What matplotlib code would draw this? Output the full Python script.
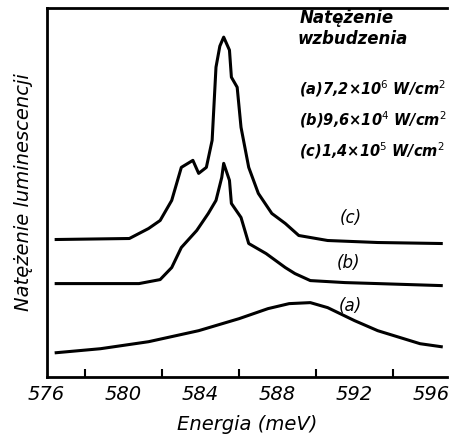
import matplotlib
matplotlib.use("Agg")
import matplotlib.pyplot as plt

# energy (meV) and luminescence intensity (arb. units)
energy_a = [576.5, 578.8, 581.3, 583.9, 586.0, 587.5, 588.6, 589.7, 590.6, 592.0, 593.2, 595.4, 596.5]
lum_a = [24, 28, 35, 46, 58, 68, 73, 74, 69, 56, 46, 33, 30]

energy_b = [576.5, 578.8, 580.8, 581.9, 582.5, 583.0, 583.8, 584.4, 584.8, 585.1, 585.2,
            585.5, 585.6, 586.1, 586.5, 587.4, 588.4, 588.9, 589.7, 591.5, 593.2, 596.5]
lum_b = [93, 93, 93, 97, 109, 129, 146, 163, 176, 199, 213,
         196, 173, 159, 133, 123, 109, 103, 96, 94, 93, 91]

energy_c = [576.5, 580.3, 581.3, 581.9, 582.5, 583.0, 583.6, 583.9, 584.3, 584.6, 584.8, 585.0,
            585.2, 585.5, 585.6, 585.9, 586.1, 586.5, 587.0, 587.7, 588.4, 589.1, 590.6, 593.2, 596.5]
lum_c = [137, 138, 148, 156, 176, 209, 216, 203, 209, 236, 309, 330,
         339, 326, 299, 289, 249, 209, 183, 163, 153, 141, 136, 134, 133]

curve_names = ["(a)", "(b)", "(c)"]
legend_lines = ["(a)7,2×10$^6$ W/cm$^2$", "(b)9,6×10$^4$ W/cm$^2$", "(c)1,4×10$^5$ W/cm$^2$"]

fig = plt.figure(figsize=(4.52, 4.48), dpi=100)
ax = fig.add_axes([0.103, 0.159, 0.886, 0.823])

for e, l in [(energy_a, lum_a), (energy_b, lum_b), (energy_c, lum_c)]:
    ax.plot(e, l, color="black", lw=2.2, solid_joinstyle="round")

ax.set_xlim(576, 596.8)
ax.set_ylim(0, 368)
ax.spines["right"].set_visible(False)
for s in ["left", "top", "bottom"]:
    ax.spines[s].set_linewidth(2)

ax.set_xticks(range(578, 597, 2), minor=True)
ax.set_xticks(range(576, 597, 4))
ax.set_xticklabels([str(v) for v in range(576, 597, 4)],
                   fontsize=14, style="italic")
ax.tick_params(axis="x", which="both", direction="in", length=6, width=1.5, pad=6)
ax.tick_params(axis="x", which="major", length=0)
ax.set_yticks([])

ax.set_xlabel("Energia (meV)", fontsize=14, style="italic", labelpad=8)
ax.set_ylabel("Natężenie luminescencji", fontsize=14, style="italic", labelpad=10)

# header text top right
ax.text(591.6, 358, "Natężenie", fontsize=12, style="italic", weight="bold", ha="center", va="center")
ax.text(591.9, 337, "wzbudzenia", fontsize=12, style="italic", weight="bold", ha="center", va="center")
for i, t in enumerate(legend_lines):
    ax.text(589.1, 288 - 31 * i, t, fontsize=10.5, style="italic", weight="bold", ha="left", va="center")

# curve labels
ax.text(591.8, 158, curve_names[2], fontsize=12, style="italic", ha="center", va="center")
ax.text(591.7, 114, curve_names[1], fontsize=12, style="italic", ha="center", va="center")
ax.text(591.8, 71, curve_names[0], fontsize=12, style="italic", ha="center", va="center")

fig.savefig("out.png", dpi=100)
